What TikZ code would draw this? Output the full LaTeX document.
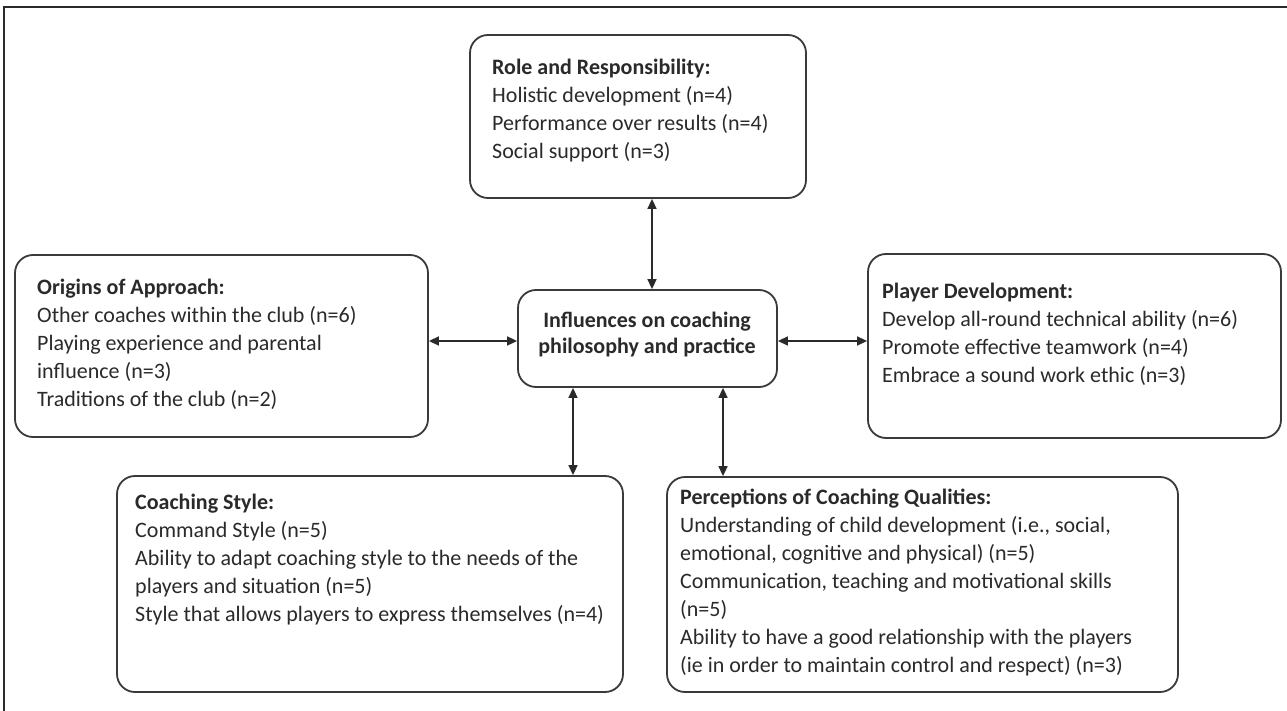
\documentclass[tikz,border=0pt]{standalone}
\usepackage{fontspec}
\setmainfont{Carlito}
\usetikzlibrary{arrows.meta}
\definecolor{ink}{HTML}{2A2A2A}
\definecolor{edge}{HTML}{3A3A3A}
\tikzset{
  box/.style={draw=edge, line width=1.8pt, rounded corners=18pt, inner sep=0pt},
  txt/.style={anchor=north west, inner sep=0pt, align=left, text=ink,
    font=\fontsize{22}{28}\selectfont},
  ctxt/.style={anchor=center, inner sep=0pt, align=center, text=ink,
    font=\fontsize{22}{26}\selectfont\bfseries},
  link/.style={draw=ink, line width=1.5pt, {Triangle[length=10pt,width=9pt]}-{Triangle[length=10pt,width=9pt]}}
}
\begin{document}
\begin{tikzpicture}[x=1pt,y=-1pt]
\useasboundingbox (0,0) rectangle (1287,711);
\fill[white] (0,0) rectangle (1287,711);
% partial frame
\draw[draw=ink, line width=2pt] (4,711) -- (4,7) -- (1287,7);

% boxes
\node[box, minimum width=336pt, minimum height=163pt] (role) at (638,116.5) {};
\node[box, minimum width=413pt, minimum height=182pt] (orig) at (221.5,346) {};
\node[box, minimum width=259pt, minimum height=97pt] (cent) at (647.5,338.5) {};
\node[box, minimum width=413pt, minimum height=184pt] (play) at (1074.5,346) {};
\node[box, minimum width=506pt, minimum height=216pt] (style) at (370,584) {};
\node[box, minimum width=511pt, minimum height=215pt] (perc) at (922.5,584.5) {};

% texts
\node[txt] (troleT) at (492,59) {\textbf{Role and Responsibility:}\\Holistic development (n=4)\\Performance over results (n=4)\\Social support (n=3)};
\node[txt] (torigT) at (37,279) {\textbf{Origins of Approach:}\\Other coaches within the club (n=6)\\Playing experience and parental\\influence (n=3)\\Traditions of the club (n=2)};
\node[ctxt] (tcent) at (647,335) {Influences on coaching\\philosophy and practice};
\node[txt] (tplay) at (882,283) {\textbf{Player Development:}\\Develop all-round technical ability (n=6)\\Promote effective teamwork (n=4)\\Embrace a sound work ethic (n=3)};
\node[txt] (tstyle) at (135,494) {\textbf{Coaching Style:}\\Command Style (n=5)\\Ability to adapt coaching style to the needs of the\\players and situation (n=5)\\Style that allows players to express themselves (n=4)};
\node[txt] (tperc) at (680,489) {\textbf{Perceptions of Coaching Qualities:}\\Understanding of child development (i.e., social,\\emotional, cognitive and physical) (n=5)\\Communication, teaching and motivational skills\\(n=5)\\Ability to have a good relationship with the players\\(ie in order to maintain control and respect) (n=3)};

% connector helpers
\coordinate (xr) at (652,0);
\coordinate (yh) at (0,341);
\coordinate (xs) at (573,0);
\coordinate (xp) at (723,0);

\draw[link] (role.south -| xr) -- (cent.north -| xr);
\draw[link] (orig.east |- yh) -- (cent.west |- yh);
\draw[link] (cent.east |- yh) -- (play.west |- yh);
\draw[link] (cent.south -| xs) -- (style.north -| xs);
\draw[link] (cent.south -| xp) -- (perc.north -| xp);
\end{tikzpicture}
\end{document}
